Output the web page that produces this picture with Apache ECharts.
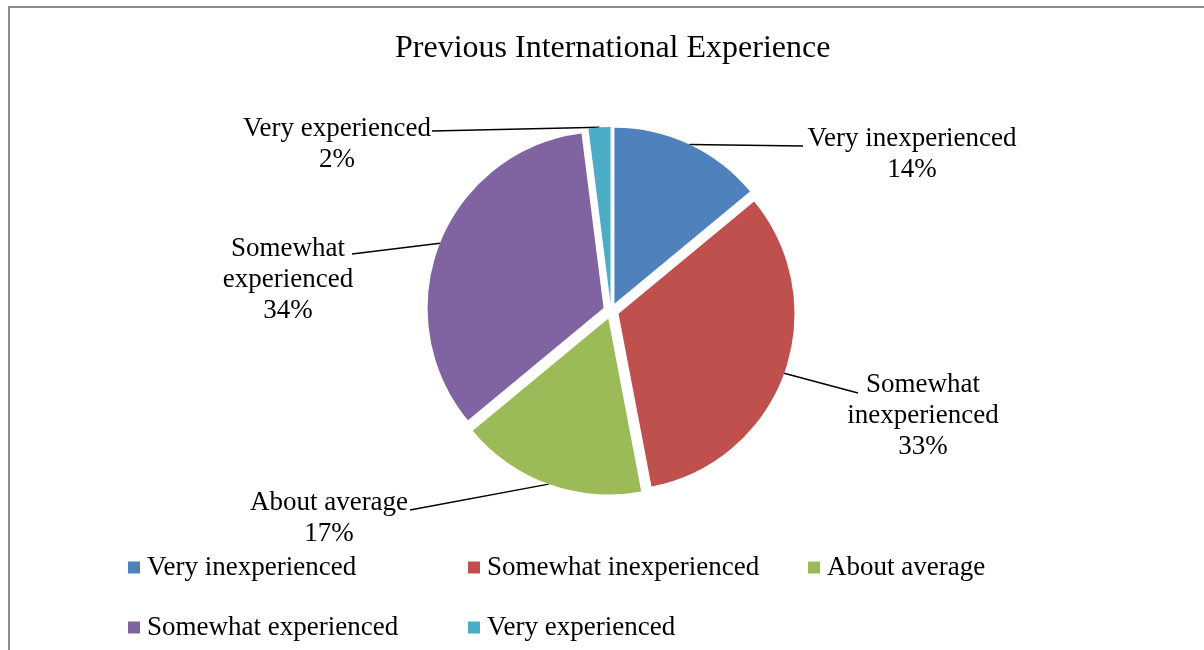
<!DOCTYPE html>
<html>
<head>
<meta charset="utf-8">
<title>Previous International Experience</title>
<script src="https://cdn.jsdelivr.net/npm/echarts@6/dist/echarts.min.js"></script>
<style>
  html, body { margin: 0; padding: 0; background: #fff; }
  #wrap { position: relative; width: 1204px; height: 650px; overflow: hidden; }
  #frame { position: absolute; left: 8px; top: 6px; width: 1300px; height: 700px;
           border-left: 2px solid #8c8c8c; border-top: 2px solid #8c8c8c; }
  #main { position: absolute; left: 0; top: 0; width: 1204px; height: 650px; }
</style>
</head>
<body>
<div id="wrap">
  <div id="frame"></div>
  <div id="main"></div>
</div>
<script>
var categories = ['Very inexperienced', 'Somewhat inexperienced', 'About average', 'Somewhat experienced', 'Very experienced'];
var labelTexts = ['Very inexperienced', 'Somewhat\ninexperienced', 'About average', 'Somewhat\nexperienced', 'Very experienced'];
var values = [14, 33, 17, 34, 2];
var colors = ['#4F81BD', '#C0504D', '#9BBB59', '#8064A2', '#4BACC6'];

// centre of each label block (x, y) and where its leader line meets it (lx, ly)
var labelPos = [
    { x: 912, y: 154, lx: 803, ly: 146 },
    { x: 923, y: 416, lx: 858, ly: 393 },
    { x: 329, y: 518, lx: 410, ly: 510 },
    { x: 288, y: 280, lx: 352, ly: 254 },
    { x: 337, y: 144, lx: 432, ly: 131 }
];
var legendPos = [
    { left: 123, top: 549 },
    { left: 463, top: 549 },
    { left: 803, top: 549 },
    { left: 123, top: 609 },
    { left: 463, top: 609 }
];

var font = '"Liberation Serif", "Times New Roman", serif';
var pieCenter = [611, 311];
var pieRadius = 176;
var explode = 8;

var total = 0;
for (var t = 0; t < values.length; t++) total += values[t];

// one pie per slice so every slice can be pulled out a little (exploded pie)
var series = [];
var acc = 0;
for (var i = 0; i < categories.length; i++) {
    var mid = (acc + values[i] / 2) / total * 2 * Math.PI;
    acc += values[i];
    var data = [];
    for (var k = 0; k < categories.length; k++) {
        if (k === i) {
            data.push({ name: categories[k], value: values[k], itemStyle: { color: colors[k] } });
        } else {
            data.push({
                name: '_rest' + k, value: values[k],
                itemStyle: { color: 'rgba(0,0,0,0)' },
                label: { show: false }, labelLine: { show: false }
            });
        }
    }
    series.push({
        type: 'pie',
        center: [pieCenter[0] + explode * Math.sin(mid), pieCenter[1] - explode * Math.cos(mid)],
        radius: pieRadius,
        startAngle: 90,
        clockwise: true,
        avoidLabelOverlap: false,
        selectedMode: false,
        emphasis: { disabled: true },
        silent: true,
        data: data,
        label: {
            show: true,
            fontFamily: font,
            fontSize: 27,
            lineHeight: 31,
            color: '#000',
            formatter: function (p) {
                return labelTexts[p.dataIndex] + '\n' + Math.round(p.percent) + '%';
            }
        },
        labelLine: {
            show: true,
            length: 20,
            length2: 0,
            lineStyle: { color: '#000', width: 1.5 }
        },
        labelLayout: function (params) {
            var p = labelPos[params.dataIndex];
            var out = { x: p.x, y: p.y, align: 'center', verticalAlign: 'middle' };
            if (params.labelLinePoints && params.labelLinePoints[0]) {
                var s = params.labelLinePoints[0];
                out.labelLinePoints = [[s[0], s[1]], [p.lx, p.ly]];
            }
            return out;
        }
    });
}

var legends = [];
for (var j = 0; j < categories.length; j++) {
    legends.push({
        left: legendPos[j].left,
        top: legendPos[j].top,
        data: [categories[j]],
        icon: 'rect',
        itemWidth: 12,
        itemHeight: 12,
        selectedMode: false,
        textStyle: { fontFamily: font, fontSize: 27, color: '#000', padding: [0, 0, 0, 2] }
    });
}

var chart = echarts.init(document.getElementById('main'));
chart.setOption({
    animation: false,
    title: {
        text: 'Previous International Experience',
        left: 390,
        top: 28,
        textStyle: { fontFamily: font, fontSize: 32, fontWeight: 'normal', color: '#000' }
    },
    legend: legends,
    series: series
});
</script>
</body>
</html>
